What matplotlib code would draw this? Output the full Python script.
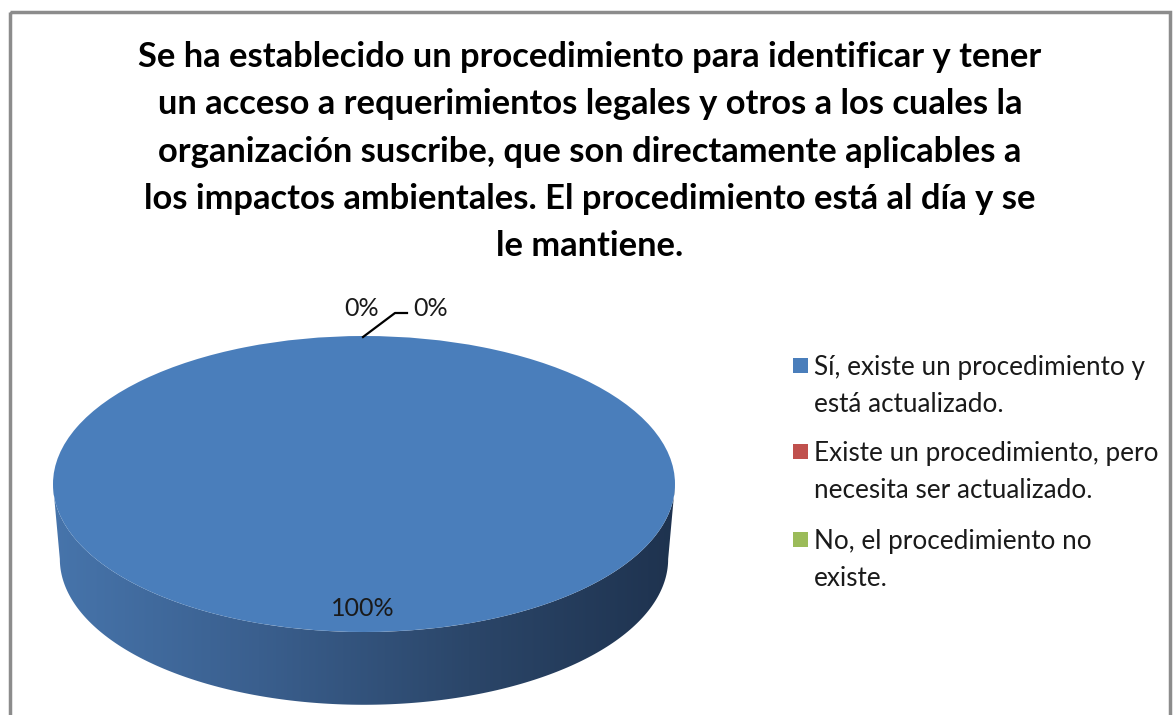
import numpy as np
import matplotlib
matplotlib.use("Agg")
import matplotlib.pyplot as plt
from matplotlib.patches import Polygon, Rectangle
from matplotlib.colors import LinearSegmentedColormap

TITLE_LINES = [
    "Se ha establecido un procedimiento para identificar y tener",
    "un acceso a requerimientos legales y otros a los cuales la",
    "organización suscribe, que son directamente aplicables a",
    "los impactos ambientales. El procedimiento está al día y se",
    "le mantiene.",
]
CATEGORIES = [
    "Sí, existe un procedimiento y\nestá actualizado.",
    "Existe un procedimiento, pero\nnecesita ser actualizado.",
    "No, el procedimiento no\nexiste.",
]
VALUES = [100, 0, 0]
COLORS = ["#4A7EBB", "#C0504D", "#9BBB59"]

W, H = 1176, 715
FONT = ["Lato", "DejaVu Sans"]

fig = plt.figure(figsize=(W / 100, H / 100), dpi=100)
fig.patch.set_facecolor("white")

# pixel overlay for text, frame, legend
ax = fig.add_axes([0, 0, 1, 1])
ax.set_xlim(0, W)
ax.set_ylim(H, 0)
ax.axis("off")
ax.set_zorder(5)
ax.patch.set_alpha(0)

# pie axes: top ellipse spans x 53..675, y 336..632, side depth 75px
depth = 75 / 148
px_left, px_right, px_top, px_bot = 53, 675, 336, 707
ax_pie = fig.add_axes([px_left / W, (H - px_bot) / H,
                       (px_right - px_left) / W, (px_bot - px_top) / H])

wedges, _ = ax_pie.pie(VALUES, colors=COLORS, startangle=90, counterclock=False,
                       radius=1, wedgeprops=dict(linewidth=0))
for w in wedges:
    w.set_zorder(3)

# side of the 3D disc
t = np.linspace(np.pi, 2 * np.pi, 200)
top_edge = np.column_stack([np.cos(t), np.sin(t)])
bot_edge = np.column_stack([0.978 * np.cos(t[::-1]), 0.985 * np.sin(t[::-1]) - depth])
side = Polygon(np.vstack([top_edge, bot_edge]), closed=True, facecolor="none",
               edgecolor="none", transform=ax_pie.transData)
ax_pie.add_patch(side)
cmap = LinearSegmentedColormap.from_list("side", ["#4775AC", "#3A5F8E", "#2B4669", "#1E324E"])
grad = np.linspace(0, 1, 256).reshape(1, -1)
im = ax_pie.imshow(grad, cmap=cmap, extent=(-1.02, 1.02, -1 - depth - 0.05, 0.05),
                   aspect="auto", zorder=1, interpolation="bilinear")
im.set_clip_path(side)

ax_pie.set_aspect("auto")
ax_pie.set_xlim(-1, 1)
ax_pie.set_ylim(-1 - depth, 1)
ax_pie.axis("off")

# percentage labels
total = sum(VALUES)
pcts = [f"{v / total * 100:.0f}%" for v in VALUES]
label_pos = [(363, 609), (362, 308), (431, 308)]
for txt, (x, y) in zip(pcts, label_pos):
    ax.text(x, y, txt, ha="center", va="center", fontsize=18, family=FONT, color="#1a1a1a")
ax.plot([363, 395, 407], [337, 313, 313], color="black", lw=1.6)

# title
for i, line in enumerate(TITLE_LINES):
    ax.text(590, 57 + i * 47.3, line, ha="center", va="center", fontsize=24.8,
            fontweight="bold", family=FONT, color="black")

# legend
block_y = [367, 453, 541]
for lab, col, y0 in zip(CATEGORIES, COLORS, block_y):
    ax.add_patch(Rectangle((793, y0 - 9), 15, 15, facecolor=col, edgecolor="none"))
    for j, ln in enumerate(lab.split("\n")):
        ax.text(814, y0 + j * 37, ln, ha="left", va="center", fontsize=18.8,
                family=FONT, color="#1a1a1a")

# chart frame
ax.add_patch(Rectangle((10, 12), 1160, 720, facecolor="none", edgecolor="#8C8C8C",
                       lw=2.5, clip_on=False))

fig.savefig("out.png", dpi=100)
